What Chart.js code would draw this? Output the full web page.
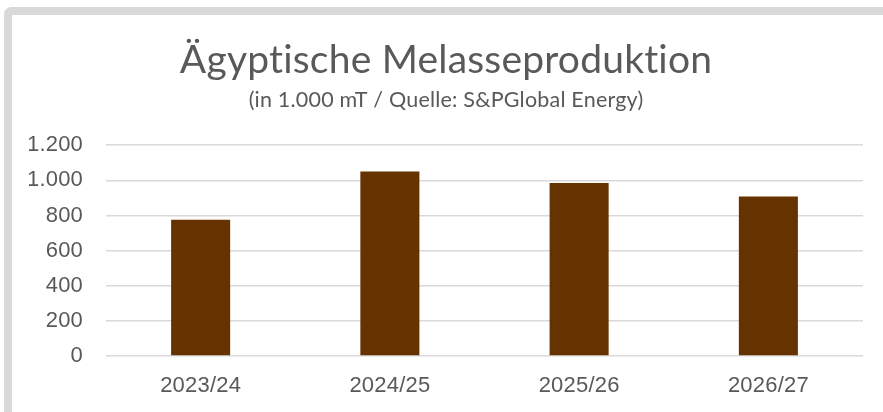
<!DOCTYPE html>
<html>
<head>
<meta charset="utf-8">
<script src="https://cdn.jsdelivr.net/npm/chart.js@4/dist/chart.umd.min.js"></script>
<style>
  html, body { margin: 0; padding: 0; background: #ffffff; }
  #wrap { position: relative; width: 883px; height: 412px; overflow: hidden; background: #ffffff; }
  #frame { position: absolute; left: 4px; top: 7px; width: 1000px; height: 600px;
           border-top: 8px solid #d9d9d9; border-left: 8px solid #d9d9d9;
           border-top-left-radius: 8px; box-sizing: border-box; }
  #box { position: absolute; left: 0; top: 0; width: 883px; height: 412px; }
</style>
</head>
<body>
<div id="wrap">
  <div id="frame"></div>
  <div id="box"><canvas id="c"></canvas></div>
</div>
<script>
const titleText = 'Ägyptische Melasseproduktion';
const subtitleText = '(in 1.000 mT / Quelle: S&PGlobal Energy)';
const categories = ['2023/24', '2024/25', '2025/26', '2026/27'];
const production = [775, 1050, 985, 908];
const yTicks = [0, 200, 400, 600, 800, 1000, 1200];

function deFormat(v) {
  return String(v).replace(/\B(?=(\d{3})+(?!\d))/g, '.');
}

const noLigatures = {
  id: 'noLigatures',
  beforeDraw(chart) { try { chart.ctx.letterSpacing = '0.2px'; } catch (e) {} }
};

new Chart(document.getElementById('c'), {
  type: 'bar',
  data: {
    labels: categories,
    datasets: [{
      label: 'Melasseproduktion',
      data: production,
      backgroundColor: '#663300',
      borderWidth: 0,
      barPercentage: 0.312,
      categoryPercentage: 1.0
    }]
  },
  plugins: [noLigatures],
  options: {
    responsive: true,
    maintainAspectRatio: false,
    animation: false,
    layout: { padding: { left: 29, right: 20, top: 0, bottom: 5 } },
    plugins: {
      legend: { display: false },
      tooltip: { enabled: false },
      title: {
        display: true,
        text: titleText,
        color: '#595959',
        font: { family: 'Lato', size: 39, weight: 'normal', lineHeight: 1.2 },
        padding: { top: 37, bottom: 0 }
      },
      subtitle: {
        display: true,
        text: subtitleText,
        color: '#595959',
        font: { family: 'Lato', size: 21.5, weight: 'normal', lineHeight: 1.2 },
        padding: { top: 3.8, bottom: 31.8 }
      }
    },
    scales: {
      x: {
        afterFit: (s) => { s.height = 51; },
        grid: { display: false, drawTicks: false },
        border: { display: false },
        ticks: {
          color: '#595959',
          font: { family: 'Liberation Sans', size: 22 },
          padding: 17
        }
      },
      y: {
        min: 0,
        max: 1200,
        afterBuildTicks: (s) => { s.ticks = yTicks.map(v => ({ value: v })); },
        afterFit: (s) => { s.width = 77; },
        grid: { color: '#d9d9d9', lineWidth: 1.5, drawTicks: false },
        border: { display: false },
        ticks: {
          color: '#595959',
          font: { family: 'Liberation Sans', size: 22 },
          padding: 23,
          callback: (v) => deFormat(v)
        }
      }
    }
  }
});
</script>
</body>
</html>
